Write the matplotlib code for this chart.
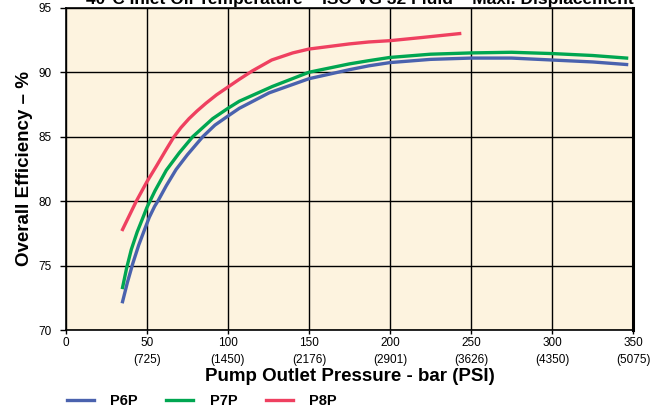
import matplotlib.pyplot as plt
from matplotlib.lines import Line2D

# pump outlet pressure (bar) vs overall efficiency (%)
p6p_bar = [35, 38, 41.4, 45, 48.6, 51.5, 54.8, 57, 62, 68, 75, 84.5, 92, 100, 107, 125.4,
           150, 175, 187, 200, 225, 250, 275, 300, 325, 346]
p6p_eff = [72.2, 73.7, 75.2, 76.6, 77.8, 78.75, 79.6, 80.05, 81.2, 82.45, 83.6, 85.0, 85.9, 86.6, 87.2, 88.4,
           89.5, 90.2, 90.5, 90.75, 91.0, 91.1, 91.1, 90.95, 90.8, 90.6]

p7p_bar = [35, 37.5, 40.4, 44, 47.5, 50, 55, 62, 70, 78.3, 90.6, 100, 107, 127.5,
           150, 175, 187, 200, 225, 250, 275, 300, 325, 346]
p7p_eff = [73.3, 74.8, 76.25, 77.6, 78.7, 79.5, 80.8, 82.4, 83.75, 85.0, 86.4, 87.2, 87.75, 88.9,
           90.0, 90.65, 90.9, 91.15, 91.4, 91.5, 91.55, 91.45, 91.3, 91.1]

p8p_bar = [35, 43.5, 50, 55.8, 61.9, 66.5, 71, 76, 81, 86.5, 93, 100, 107, 115, 127, 140,
           150, 175, 187, 200, 220, 243]
p8p_eff = [77.8, 80.0, 81.5, 82.7, 84.0, 84.95, 85.7, 86.4, 87.0, 87.6, 88.25, 88.85, 89.45, 90.1, 90.95, 91.5,
           91.8, 92.2, 92.35, 92.45, 92.7, 93.0]

xticks = [0, 50, 100, 150, 200, 250, 300, 350]
xlabels = ['0', '50\n(725)', '100\n(1450)', '150\n(2176)', '200\n(2901)',
           '250\n(3626)', '300\n(4350)', '350\n(5075)']
yticks = [70, 75, 80, 85, 90, 95]

bold_family = ['Liberation Sans', 'DejaVu Sans']
plt.rcParams['font.family'] = ['Liberation Sans Narrow', 'Liberation Sans', 'DejaVu Sans']

fig = plt.figure(figsize=(6.65, 4.11), dpi=100)
ax = fig.add_axes([0.099, 0.197, 0.853, 0.784])
ax.set_facecolor('#fdf3df')

ax.plot(p6p_bar, p6p_eff, color='#4a62ae', lw=2.4, zorder=3)
ax.plot(p7p_bar, p7p_eff, color='#00a651', lw=2.4, zorder=3)
ax.plot(p8p_bar, p8p_eff, color='#ef4060', lw=2.4, zorder=3)

ax.set_xlim(0, 350)
ax.set_ylim(70, 95)
ax.set_xticks(xticks)
ax.set_xticklabels(xlabels, fontsize=8.5, linespacing=1.6)
ax.set_yticks(yticks)
ax.set_yticklabels([str(v) for v in yticks], fontsize=8.5)
ax.tick_params(axis='x', length=3, width=1, color='black', pad=2)
ax.tick_params(axis='y', length=4, width=1, color='black', pad=6)
ax.grid(True, color='black', lw=1)
ax.set_axisbelow(True)
for s in ['left', 'bottom', 'top']:
    ax.spines[s].set_linewidth(1.2)
ax.spines['right'].set_linewidth(2.2)

ax.set_xlabel('Pump Outlet Pressure - bar (PSI)', fontsize=13.5, fontweight='bold',
              family=bold_family, labelpad=1)
ax.set_ylabel('Overall Efficiency \u2013 %', fontsize=13.5, fontweight='bold',
              family=bold_family, labelpad=4)

fig.text(0.541, 0.990, '40\u00b0C Inlet Oil Temperature \u2013 ISO VG 32 Fluid \u2013 Maxi. Displacement',
         ha='center', va='baseline', fontsize=12.5, fontweight='bold', family=bold_family)

handles = [Line2D([], [], color='#4a62ae', lw=2.4),
           Line2D([], [], color='#00a651', lw=2.4),
           Line2D([], [], color='#ef4060', lw=2.4)]
fig.legend(handles, ['P6P', 'P7P', 'P8P'], loc='center left', bbox_to_anchor=(0.0915, 0.024),
           ncol=3, frameon=False, handlelength=1.85, handletextpad=1.1, columnspacing=2.0,
           borderaxespad=0, prop={'family': bold_family, 'weight': 'bold', 'size': 10.5})

fig.savefig('out.png', dpi=100)
